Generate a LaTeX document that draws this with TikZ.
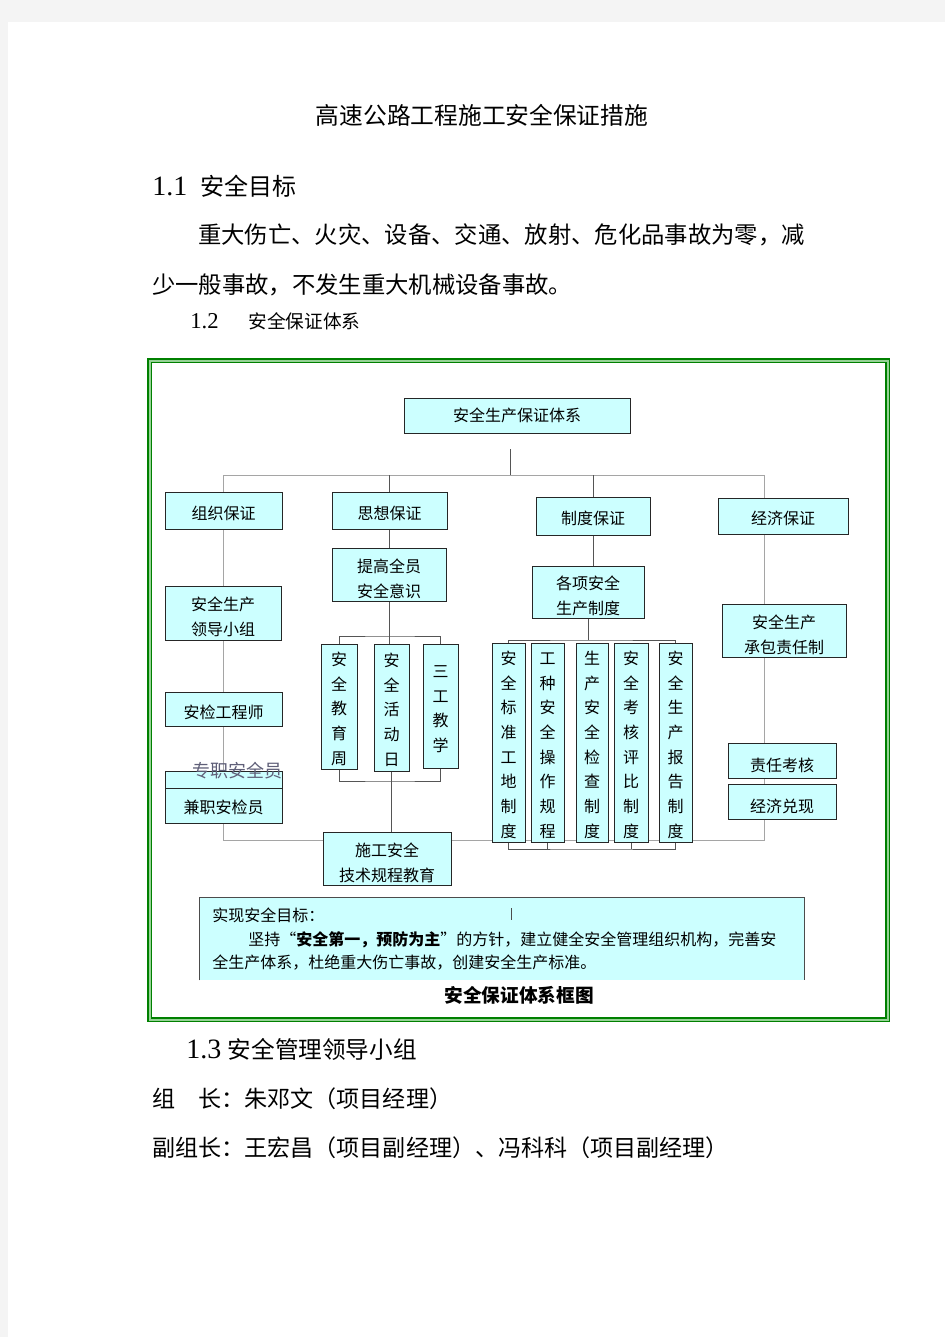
\documentclass[tikz,border=0pt]{standalone}
\usepackage{fontspec}
\newfontfamily\cjk{Noto Sans CJK SC}
\newfontfamily\numfont{Liberation Serif}

\definecolor{boxcyan}{RGB}{204,255,255}
\definecolor{linkgray}{RGB}{165,165,165}
\definecolor{linkdark}{RGB}{85,85,85}
\definecolor{framegreen}{RGB}{0,128,0}
\definecolor{framelight}{RGB}{150,210,150}
\definecolor{pagegray}{RGB}{244,244,244}
\definecolor{ghost}{RGB}{95,95,120}

\pgfdeclarelayer{paper}
\pgfdeclarelayer{wires}
\pgfsetlayers{paper,wires,main}

\newcommand\boxfont{\cjk\fontsize{12}{18.5}\selectfont}
\newcommand\bodyfont{\cjk\fontsize{17.5}{24}\selectfont}
\newcommand\txtdrop[1]{\rule{0pt}{#1}}

\tikzset{every picture/.style={line width=0.75pt}}

\begin{document}
\begin{tikzpicture}[x=0.75pt,y=0.75pt,yscale=-1,xscale=1,
  box/.style={draw=black!85,fill=boxcyan,inner sep=0pt,align=center,font=\boxfont},
  boxsize/.style 2 args={minimum width=#1*0.75pt,minimum height=#2*0.75pt},
  lower/.style={execute at begin node={\rule{0pt}{#1}}},
  plain/.style={anchor=west,inner sep=0pt},
  link/.style={draw=linkgray},
  dlink/.style={draw=linkdark}]

	\useasboundingbox (0,0) rectangle (945,1337);
	\begin{pgfonlayer}{paper}
	%Shape: Page
	\fill[pagegray] (0,0) rectangle (945,1337);
	\fill[white] (8,22) rectangle (945,1337);
	\end{pgfonlayer}

	% Text Node
	\node[font=\cjk\fontsize{17.8}{20}\selectfont] (title) at (482,115) {高速公路工程施工安全保证措施};
	% Text Node
	\node[plain,font=\cjk\fontsize{18}{20}\selectfont] (sec11) at (152,186) {{\numfont\fontsize{21}{22}\selectfont 1.1}\hspace{9.75pt}安全目标};
	% Text Node
	\node[plain,font=\bodyfont] (para1) at (198,235) {重大伤亡、火灾、设备、交通、放射、危化品事故为零，减};
	% Text Node
	\node[plain,font=\bodyfont] (para2) at (152,285) {少一般事故，不发生重大机械设备事故。};
	% Text Node
	\node[plain,font=\cjk\fontsize{14}{16}\selectfont] (sec12) at (190,321) {{\numfont\fontsize{17}{18}\selectfont 1.2}\hspace{22.5pt}安全保证体系};

	%Shape: Frame
	\draw[draw=framegreen,double=framelight,double distance=1.5pt,line width=1.2pt] (149.5,360.5) rectangle (887.5,1019.5);

	%Shape: Boxes, top levels
	\node[box,boxsize={226}{35}] (root) at (517,415.5) {安全生产保证体系};
	\node[box,lower=15pt,boxsize={117}{37}] (zuzhi) at (223.5,510.5) {组织保证};
	\node[box,lower=15pt,boxsize={115}{37}] (sixiang) at (389.5,510.5) {思想保证};
	\node[box,lower=14pt,boxsize={114}{38}] (zhidu) at (593,516) {制度保证};
	\node[box,lower=14pt,boxsize={130}{36}] (jingji) at (783,516) {经济保证};
	\node[box,boxsize={116}{54}] (lingdao) at (223,613) {\txtdrop{16.5pt}安全生产\\领导小组};
	\node[box,boxsize={114}{53}] (tigao) at (389,574.5) {\txtdrop{16.5pt}提高全员\\安全意识};
	\node[box,boxsize={112}{52}] (gexiang) at (588,592) {\txtdrop{16.5pt}各项安全\\生产制度};
	\node[box,boxsize={124}{53}] (chengbao) at (784,630.5) {\txtdrop{16.5pt}安全生产\\承包责任制};

	%Shape: Boxes, left column
	\node[box,lower=15pt,boxsize={117}{34}] (anjian) at (223.5,709) {安检工程师};
	\node[box,boxsize={117}{52}] (jianzhi) at (223.5,797) {};
	\draw[draw=black!85] (165,788) -- (282,788);
	\node[font=\boxfont] (jianzhiT) at (223.5,807) {兼职安检员};
	\node[font=\cjk\fontsize{13.5}{15}\selectfont,text=ghost] (zhuanzhi) at (237,771) {专职安全员};

	%Shape: Boxes, education
	\node[box,boxsize={36}{125}] (jiaoyu) at (339,706.5) {\txtdrop{13.5pt}安\\全\\教\\育\\周};
	\node[box,boxsize={35}{127}] (huodong) at (391.5,707.5) {\txtdrop{13.5pt}安\\全\\活\\动\\日};
	\node[box,boxsize={35}{124}] (sangong) at (440.5,706) {\txtdrop{13.5pt}三\\工\\教\\学};
	\node[box,boxsize={128}{53}] (shigong) at (387,858.5) {\txtdrop{16.5pt}施工安全\\技术规程教育};

	%Shape: Boxes, rules
	\node[box,boxsize={33}{199}] (zd1) at (508.5,742.5) {\txtdrop{13.5pt}安\\全\\标\\准\\工\\地\\制\\度};
	\node[box,boxsize={33}{199}] (zd2) at (547.5,742.5) {\txtdrop{13.5pt}工\\种\\安\\全\\操\\作\\规\\程};
	\node[box,boxsize={32}{199}] (zd3) at (592,742.5) {\txtdrop{13.5pt}生\\产\\安\\全\\检\\查\\制\\度};
	\node[box,boxsize={34}{199}] (zd4) at (631,742.5) {\txtdrop{13.5pt}安\\全\\考\\核\\评\\比\\制\\度};
	\node[box,boxsize={33}{199}] (zd5) at (675.5,742.5) {\txtdrop{13.5pt}安\\全\\生\\产\\报\\告\\制\\度};

	%Shape: Boxes, right column
	\node[box,lower=17pt,boxsize={108}{35}] (zeren) at (782,760.5) {责任考核};
	\node[box,lower=17pt,boxsize={108}{35}] (duixian) at (782,801.5) {经济兑现};

	%Shape: Goal box
	\node[fill=boxcyan,inner sep=0pt,boxsize={604}{82}] (goal) at (502,939) {};
	\draw[draw=black!70] (goal.south west) -- (goal.north west) -- (goal.north east) -- (goal.south east);
	\draw[draw=black!70] (511,908) -- (511,920);
	% Text Node
	\node[plain,font=\boxfont] (goalA) at (212,915) {实现安全目标：};
	% Text Node
	\node[plain,font=\boxfont] (goalB) at (248,940) {坚持\makebox[1em][r]{“}{\bfseries 安全第一，预防为主}\makebox[1em][l]{”}的方针，建立健全安全管理组织机构，完善安};
	% Text Node
	\node[plain,font=\boxfont] (goalC) at (212,963) {全生产体系，杜绝重大伤亡事故，创建安全生产标准。};
	% Text Node
	\node[font=\cjk\bfseries\fontsize{14}{16}\selectfont] (caption) at (519,995) {安全保证体系框图};

	% Text Node
	\node[plain,font=\cjk\fontsize{17.7}{20}\selectfont] (sec13) at (186,1049) {{\numfont\fontsize{21}{22}\selectfont 1.3}\hspace{5pt}安全管理领导小组};
	% Text Node
	\node[plain,font=\cjk\fontsize{17.3}{20}\selectfont] (zuzhang) at (152,1099) {组　长：朱邓文（项目经理）};
	% Text Node
	\node[plain,font=\cjk\fontsize{17.3}{20}\selectfont] (fuzu) at (152,1148) {副组长：王宏昌（项目副经理）、冯科科（项目副经理）};

	\begin{pgfonlayer}{wires}
	\coordinate (stem) at (510,449);
	\coordinate (bus) at (510,475);
	\coordinate (rline) at (764,475);
	\coordinate (floor) at (226,840);
	%Straight Lines: main bus and outer loop
	\draw[dlink] (stem) -- (bus);
	\draw[link] (zuzhi.north) |- (rline) -- (rline |- floor) -| (zuzhi.south);
	\draw[dlink] (sixiang.north) -- (sixiang.north |- bus);
	\draw[dlink] (zhidu.north) -- (zhidu.north |- bus);
	%Straight Lines: education branch
	\coordinate (tbar) at (390,636);
	\coordinate (bbar) at (390,781);
	\draw[dlink] (sixiang.south) -- (sixiang.south |- tigao.north);
	\draw[dlink] (tigao.south) -- (tigao.south |- huodong.north);
	\draw[dlink] (jiaoyu.north) |- (tbar) -| (sangong.north);
	\draw[dlink] (jiaoyu.south) |- (bbar) -| (sangong.south);
	\draw[dlink] (huodong.south) -- (huodong.south |- shigong.north);
	%Straight Lines: rules branch
	\coordinate (zbar) at (591,640);
	\coordinate (zfoot) at (591,849);
	\draw[dlink] (zhidu.south) -- (zhidu.south |- gexiang.north);
	\draw[dlink] (gexiang.south) -- (gexiang.south |- zbar);
	\draw[dlink] (zd1.north) |- (zbar) -| (zd5.north);
	\draw[dlink] (zd1.south) |- (zfoot) -| (zd5.south);
	\draw[dlink] (zd2.south) -- (zd2.south |- zfoot);
	\draw[dlink] (zd4.south) -- (zd4.south |- zfoot);
	\end{pgfonlayer}

\end{tikzpicture}
\end{document}
